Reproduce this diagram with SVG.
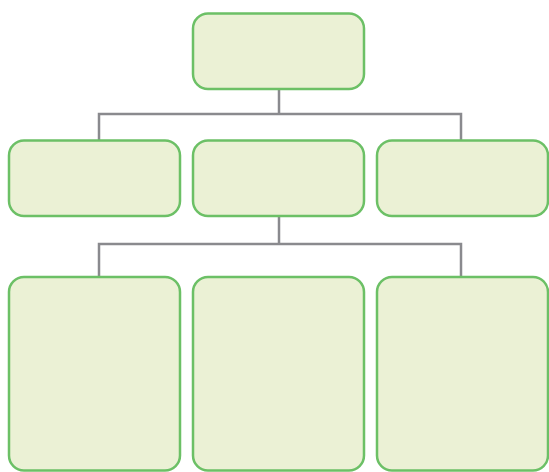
<svg xmlns="http://www.w3.org/2000/svg" width="549" height="472" viewBox="0 0 549 472">
<style>
.node{fill:#ebf1d5;stroke:#6cc066;stroke-width:2.5}
.conn{fill:none;stroke:#8a8a8e;stroke-width:2.5}
</style>
<rect width="549" height="472" fill="#ffffff"/>
<g id="connectors">
<path class="conn" d="M279 89 V114 M99 140 V114 H461 V140"/>
<path class="conn" d="M279 216 V244 M99 277 V244 H461 V277"/>
</g>
<g id="root"><rect class="node" x="193" y="13.5" width="171" height="75.5" rx="15"/></g>
<g id="mid-left"><rect class="node" x="9" y="140.5" width="171" height="75.5" rx="15"/></g>
<g id="mid-center"><rect class="node" x="193" y="140.5" width="171" height="75.5" rx="15"/></g>
<g id="mid-right"><rect class="node" x="377" y="140.5" width="171" height="75.5" rx="15"/></g>
<g id="bottom-left"><rect class="node" x="9" y="277" width="171" height="193.5" rx="15"/></g>
<g id="bottom-center"><rect class="node" x="193" y="277" width="171" height="193.5" rx="15"/></g>
<g id="bottom-right"><rect class="node" x="377" y="277" width="171" height="193.5" rx="15"/></g>
</svg>
